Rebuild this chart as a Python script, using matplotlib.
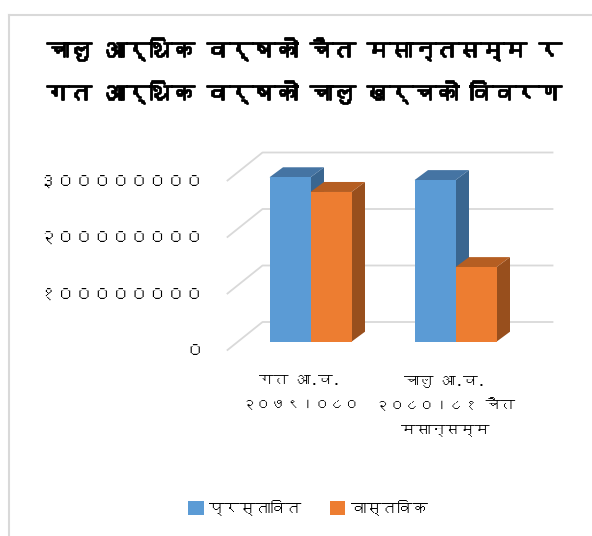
import matplotlib
matplotlib.use("Agg")
import matplotlib.pyplot as plt
from matplotlib.patches import Polygon, Patch
from matplotlib.lines import Line2D
from matplotlib import font_manager
from matplotlib.ft2font import FT2Font
import matplotlib.patheffects as pe

## Datos del grafico

title_lines = ["चालु आर्थिक वर्षको चैत मसान्तसम्म र", "गत आर्थिक वर्षको चालु खर्चको विवरण"]
categories = ["गत आ.व.\n२०७९।०८०", "चालु आ.व.\n२०८०।८१ चैत\nमसान्सम्म"]
series_names = ["प्रस्तावित", "वास्तविक"]
proposed = [291000000, 286000000]
actual = [265000000, 132000000]
yticks = [0, 100000000, 200000000, 300000000]
ytick_labels = ["०", "१००००००००", "२००००००००", "३००००००००"]

## Buscamos una fuente con glifos devanagari

def buscar_fuente():
    for f in font_manager.fontManager.ttflist:
        try:
            cmap = FT2Font(f.fname).get_charmap()
        except Exception:
            continue
        if 0x0915 in cmap and 0x0966 in cmap:
            return f.name
    return None

fuente = buscar_fuente()
familias = ([fuente] if fuente else []) + ["DejaVu Sans"]
plt.rcParams["font.family"] = familias

W, H = 592, 536
fig = plt.figure(figsize=(W / 100, H / 100), dpi=100)
fig.patch.set_facecolor("white")

def ajustar(textos, ancho_obj):
    # escala el tamano de letra para que el texto mas ancho mida ancho_obj px
    fig.canvas.draw()
    r = fig.canvas.get_renderer()
    ancho = max(t.get_window_extent(r).width for t in textos)
    for t in textos:
        t.set_fontsize(t.get_fontsize() * ancho_obj / ancho)

# ejes en el plano frontal: x de -0.5 a 1.5, y de 0 a 3.5e8
ax = fig.add_axes([227.5 / W, (H - 350) / H, 290 / W, 197.75 / H])
ax.set_xlim(-0.5, 1.5)
ax.set_ylim(0, 350000000)
for s in ax.spines.values():
    s.set_visible(False)

px_x = 2 / 290
px_y = 350000000 / 197.75

DX, DY = 35 * px_x, 28 * px_y          # profundidad del suelo
BX, BY = 10.5 * px_x, 8.3 * px_y       # cara frontal de las barras
bdx, bdy = 13.5 * px_x, 10 * px_y      # profundidad de las barras
bw = 41 * px_x

grid_c = "#d9d9d9"
for v in yticks:
    ax.plot([-0.5, -0.5 + DX, 1.5 + DX], [v, v + DY, v + DY],
            color=grid_c, lw=1.3, clip_on=False, zorder=1)

colores = [("#5b9bd5", "#4574a3", "#3a6690"),
           ("#ed7d31", "#b55e22", "#984f1d")]

z = 2
for i in range(len(categories)):
    for j, vals in enumerate([proposed, actual]):
        v = vals[i]
        front, top, side = colores[j]
        x0 = i + BX + (j - 1) * bw
        ax.add_patch(Polygon([(x0 + bw, BY), (x0 + bw + bdx, BY + bdy),
                              (x0 + bw + bdx, BY + v + bdy), (x0 + bw, BY + v)],
                             closed=True, facecolor=side, edgecolor="none",
                             clip_on=False, zorder=z))
        ax.add_patch(Polygon([(x0, BY + v), (x0 + bw, BY + v),
                              (x0 + bw + bdx, BY + v + bdy), (x0 + bdx, BY + v + bdy)],
                             closed=True, facecolor=top, edgecolor="none",
                             clip_on=False, zorder=z))
        ax.bar(x0, v, width=bw, bottom=BY, align="edge", color=front,
               edgecolor="none", clip_on=False, zorder=z + 0.5)
        z += 1

ax.set_yticks(yticks)
ax.set_yticklabels(ytick_labels, fontsize=13)
ax.set_xticks(range(len(categories)))
ax.set_xticklabels(categories, fontsize=12, linespacing=2.0)
ax.tick_params(axis="y", length=0, pad=17, colors="black")
ax.tick_params(axis="x", length=0, pad=17, colors="black")

titulos = [fig.text(304 / W, 1 - y / H, t, ha="center", va="center",
                    fontsize=18, fontweight="bold",
                    path_effects=[pe.withStroke(linewidth=1.3, foreground="black")])
           for t, y in zip(title_lines, [50, 93])]

handles = [Patch(facecolor=colores[0][0]), Patch(facecolor=colores[1][0])]
leg = fig.legend(handles, series_names, loc="center", ncol=2, frameon=False,
                 bbox_to_anchor=(308 / W, 1 - 508 / H), fontsize=13,
                 handlelength=0.85, handleheight=0.85, handletextpad=0.3,
                 columnspacing=1.6)

ajustar(titulos, 515)
ajustar(ax.get_yticklabels(), 165)
ajustar(ax.get_xticklabels(), 140)
ajustar(leg.get_texts()[:1], 92)
leg.get_texts()[1].set_fontsize(leg.get_texts()[0].get_fontsize())

# borde del area del grafico
fig.add_artist(Line2D([8.5 / W, 8.5 / W], [0, 1 - 15 / H], color=grid_c, lw=1.5))
fig.add_artist(Line2D([8.5 / W, 1], [1 - 15 / H, 1 - 15 / H], color=grid_c, lw=1.5))

fig.savefig("out.png", dpi=100)
